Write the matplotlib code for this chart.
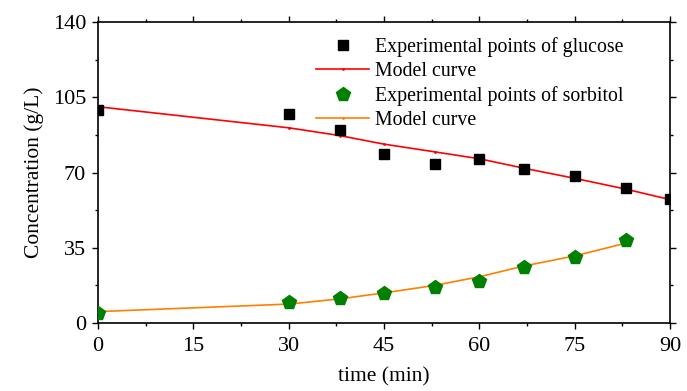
import matplotlib
matplotlib.use("Agg")
import matplotlib.pyplot as plt
from matplotlib.ticker import MultipleLocator

plt.rcParams['font.family'] = ['Liberation Serif', 'DejaVu Serif']
plt.rcParams['mathtext.fontset'] = 'stix'

# Data
time_exp = [0, 30, 38, 45, 53, 60, 67, 75, 83, 90]
glucose_exp = [99.0, 97.1, 89.8, 78.6, 74.0, 76.1, 71.5, 68.4, 62.6, 57.7]
glucose_model = [100.6, 90.8, 87.2, 83.2, 79.6, 76.4, 72.0, 67.3, 62.3, 57.4]

time_sorb = [0, 30, 38, 45, 53, 60, 67, 75, 83]
sorbitol_exp = [4.8, 9.6, 11.8, 14.1, 16.9, 19.5, 26.2, 30.9, 38.6]
sorbitol_model = [5.3, 8.8, 11.2, 14.0, 17.5, 21.5, 26.5, 31.2, 37.1]

labels = ["Experimental points of glucose", "Model curve",
          "Experimental points of sorbitol", "Model curve"]

fig = plt.figure(figsize=(6.87, 3.91), dpi=100)
ax = fig.add_axes([0.1426, 0.1739, 0.8327, 0.7698])

ax.plot(time_exp, glucose_exp, 's', color='black', markersize=7, label=labels[0], zorder=3)
ax.plot(time_exp, glucose_model, '-', color='red', lw=1.2, marker='.', markersize=2, label=labels[1])
ax.plot(time_sorb, sorbitol_exp, 'p', color='green', markersize=10, label=labels[2], zorder=3)
ax.plot(time_sorb, sorbitol_model, '-', color='#ff7f00', lw=1.2, marker='.', markersize=2, label=labels[3])

ax.set_xlim(0, 90)
ax.set_ylim(0, 140)
ax.xaxis.set_major_locator(MultipleLocator(15))
ax.xaxis.set_minor_locator(MultipleLocator(7.5))
ax.yaxis.set_major_locator(MultipleLocator(35))
ax.yaxis.set_minor_locator(MultipleLocator(17.5))

ax.tick_params(which='both', direction='out', top=True, right=True,
               labeltop=False, labelright=False, width=1, labelsize=16, colors='black')
ax.tick_params(which='major', length=4, pad=4.5)
ax.tick_params(axis='x', which='major', pad=6)
ax.tick_params(which='minor', length=2.5)
for s in ax.spines.values():
    s.set_linewidth(1.2)

ax.set_xlabel("time (min)", fontsize=15.5, labelpad=8)
ax.set_ylabel("Concentration (g/L)", fontsize=15.5, labelpad=6)

ax.legend(loc='upper left', bbox_to_anchor=(0.367, 0.977), frameon=False, fontsize=14.3,
          handlelength=2.7, handletextpad=0.3, labelspacing=0.25, borderaxespad=0)

fig.savefig("out.png", dpi=100)
